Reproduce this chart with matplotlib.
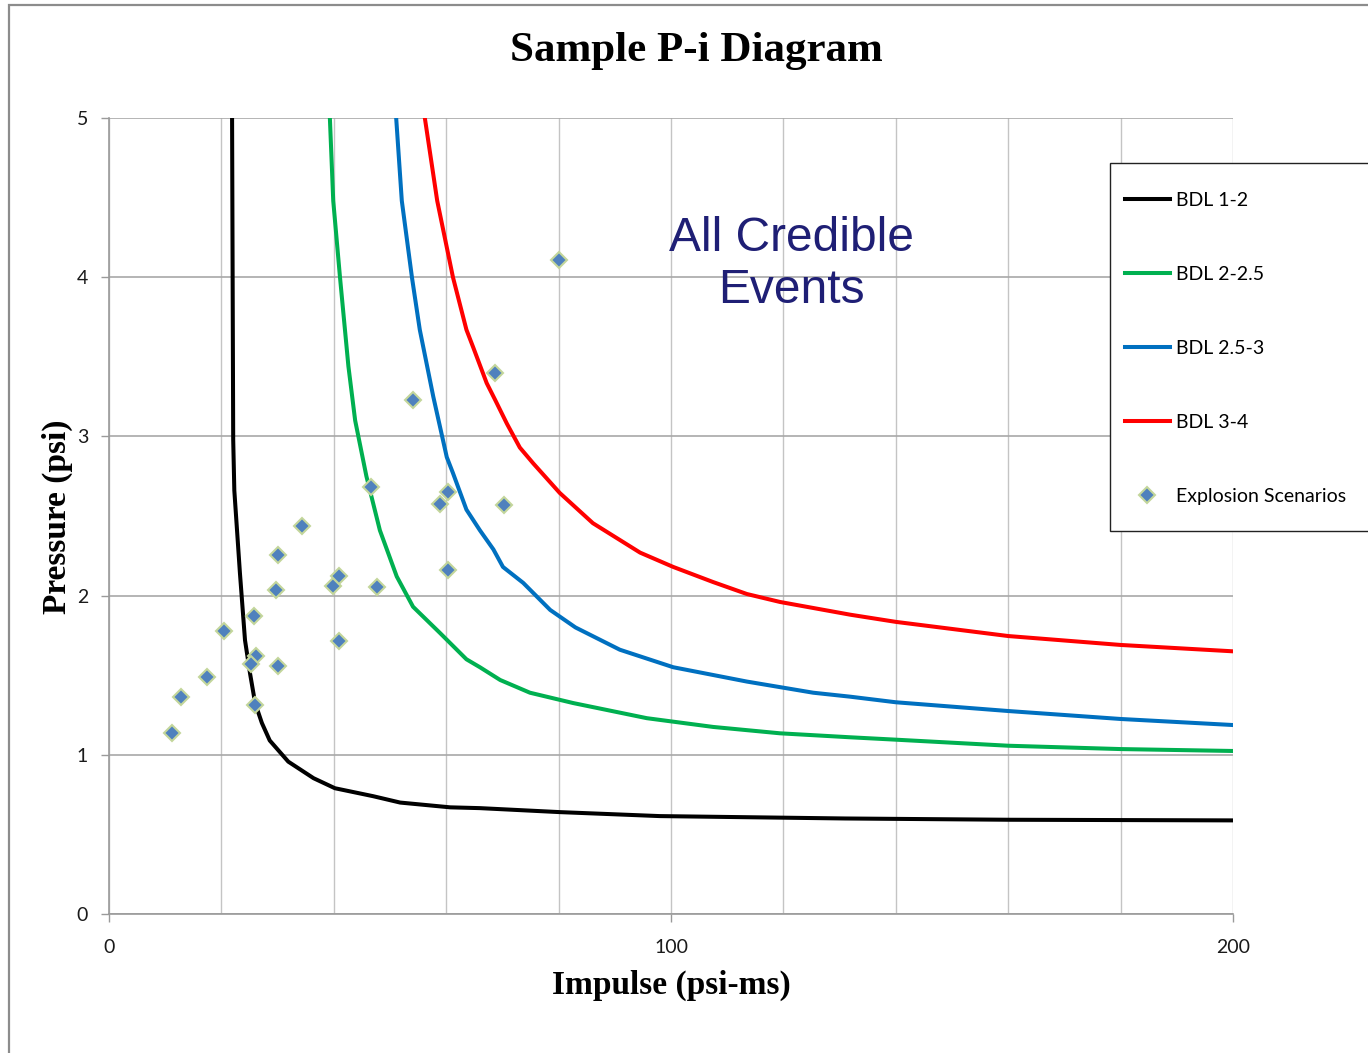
import matplotlib
matplotlib.use('Agg')
import matplotlib.pyplot as plt
from matplotlib.patches import Rectangle
from matplotlib.ticker import MultipleLocator

# Courbes P-i (impulsion psi-ms, pression psi)
bdl_12_i = [21.9, 22.1, 22.3, 23.3, 24.2, 25.1, 26.0, 27.2, 28.6, 31.9, 36.4, 40.2, 47.0,
            51.8, 60.7, 66.0, 80.2, 98.0, 131.0, 160.0, 200.0]
bdl_12_p = [5.0, 2.98, 2.66, 2.14, 1.72, 1.51, 1.325, 1.20, 1.09, 0.957, 0.853, 0.79, 0.74,
            0.70, 0.67, 0.665, 0.64, 0.615, 0.60, 0.592, 0.588]

bdl_225_i = [39.3, 39.9, 41.1, 42.6, 43.8, 45.8, 48.2, 51.2, 54.1, 58.9, 63.6, 66.0, 69.6,
             74.9, 82.6, 95.7, 107.5, 119.4, 131.9, 140.0, 160.0, 180.0, 200.0]
bdl_225_p = [5.0, 4.48, 4.0, 3.44, 3.10, 2.75, 2.41, 2.12, 1.93, 1.765, 1.6, 1.55, 1.47,
             1.39, 1.325, 1.23, 1.175, 1.135, 1.11, 1.095, 1.057, 1.036, 1.024]

bdl_253_i = [51.1, 52.1, 53.9, 55.3, 57.7, 60.1, 61.2, 63.6, 66.0, 68.4, 70.1, 73.7, 78.5,
             83.0, 90.9, 100.4, 113.5, 125.3, 131.9, 140.0, 160.0, 180.0, 200.0]
bdl_253_p = [5.0, 4.48, 4.0, 3.67, 3.25, 2.87, 2.77, 2.54, 2.41, 2.29, 2.18, 2.08, 1.91,
             1.80, 1.66, 1.55, 1.46, 1.39, 1.365, 1.33, 1.275, 1.225, 1.187]

bdl_34_i = [56.2, 58.4, 61.2, 63.6, 64.8, 67.2, 68.7, 70.8, 73.1, 75.5, 80.2, 86.1, 94.5,
            100.4, 107.5, 113.5, 119.4, 131.9, 140.0, 160.0, 180.0, 200.0]
bdl_34_p = [5.0, 4.48, 4.0, 3.67, 3.56, 3.335, 3.23, 3.08, 2.93, 2.83, 2.645, 2.455, 2.27,
            2.18, 2.085, 2.01, 1.96, 1.88, 1.835, 1.746, 1.69, 1.65]

# Scénarios d'explosion
scen_i = [11.2, 12.9, 17.5, 20.5, 25.8, 26.1, 25.2, 26.0, 30.1, 29.7, 30.1, 34.4,
          39.9, 40.9, 40.9, 47.7, 46.7, 58.9, 60.3, 60.4, 54.1, 68.7, 70.3, 80.1]
scen_p = [1.135, 1.36, 1.49, 1.78, 1.87, 1.62, 1.57, 1.31, 1.56, 2.035, 2.255, 2.44,
          2.06, 2.12, 1.715, 2.055, 2.68, 2.575, 2.65, 2.16, 3.23, 3.40, 2.57, 4.11]

W, H = 1368, 1053
fig = plt.figure(figsize=(W / 100, H / 100), dpi=100)
fig.patch.set_facecolor('white')

# cadre extérieur du graphique
fig.patches.append(Rectangle((9 / W, -0.1), 1.2, 1 - 5 / H + 0.1, transform=fig.transFigure,
                             fill=False, edgecolor='#8c8c8c', linewidth=1.6, zorder=0))

ax = fig.add_axes([109 / W, 1 - 914 / H, (1233 - 109) / W, (914 - 118) / H])
ax.set_xlim(0, 200)
ax.set_ylim(0, 5)

ax.xaxis.set_major_locator(MultipleLocator(100))
ax.xaxis.set_minor_locator(MultipleLocator(20))
ax.yaxis.set_major_locator(MultipleLocator(1))
ax.grid(True, axis='x', which='both', color='#c4c4c4', linewidth=1.0)
ax.grid(True, axis='y', which='major', color='#a8a8a8', linewidth=1.2)
ax.set_axisbelow(True)

for s in ['top', 'right']:
    ax.spines[s].set_visible(False)
for s in ['left', 'bottom']:
    ax.spines[s].set_color('#9a9a9a')
    ax.spines[s].set_linewidth(1.2)

ax.tick_params(which='major', length=6, width=1.0, color='#9a9a9a',
               labelsize=14, labelcolor='#1a1a1a')
ax.tick_params(axis='x', pad=12)
ax.tick_params(axis='y', pad=9)
ax.tick_params(which='minor', length=0)
for lab in ax.get_xticklabels() + ax.get_yticklabels():
    lab.set_family('Lato')

lw = 2.9
ax.plot(bdl_12_i, bdl_12_p, color='black', lw=lw, label='BDL 1-2')
ax.plot(bdl_225_i, bdl_225_p, color='#00b050', lw=lw, label='BDL 2-2.5')
ax.plot(bdl_253_i, bdl_253_p, color='#0070c0', lw=lw, label='BDL 2.5-3')
ax.plot(bdl_34_i, bdl_34_p, color='#ff0000', lw=lw, label='BDL 3-4')
ax.plot(scen_i, scen_p, linestyle='none', marker='D', markersize=8.5,
        markerfacecolor='#4f81bd', markeredgecolor='#c3d69b', markeredgewidth=1.5,
        label='Explosion Scenarios', zorder=5)

ax.text(121.4, 4.08, 'All Credible\nEvents', ha='center', va='center',
        fontsize=34.5, color='#1f1f75', family='Liberation Sans', linespacing=1.2)

fig.text(696 / W, 1 - 51 / H, 'Sample P-i Diagram', ha='center', va='center',
         fontsize=31, fontweight='bold', family='Liberation Serif')
fig.text(671 / W, 1 - 985 / H, 'Impulse (psi-ms)', ha='center', va='center',
         fontsize=24, fontweight='bold', family='Liberation Serif')
fig.text(57 / W, 1 - 517 / H, 'Pressure (psi)', ha='center', va='center', rotation=90,
         fontsize=24, fontweight='bold', family='Liberation Serif')

# légende : cadre dessiné à part, il déborde à droite
ax.add_patch(Rectangle((1110 / W, 1 - 531 / H), 0.3, 368 / H, transform=fig.transFigure,
                       fill=True, facecolor='white', edgecolor='#222222',
                       linewidth=1.0, zorder=6, clip_on=False))
leg = ax.legend(loc='upper left', bbox_to_anchor=(1125 / W, 1 - 192 / H),
                bbox_transform=fig.transFigure, borderaxespad=0, borderpad=0,
                frameon=False, prop={'family': 'Lato', 'size': 14},
                labelspacing=2.93, handlelength=2.3, handletextpad=0.3, numpoints=1)
leg.set_zorder(7)

fig.savefig('out.png', dpi=100)
